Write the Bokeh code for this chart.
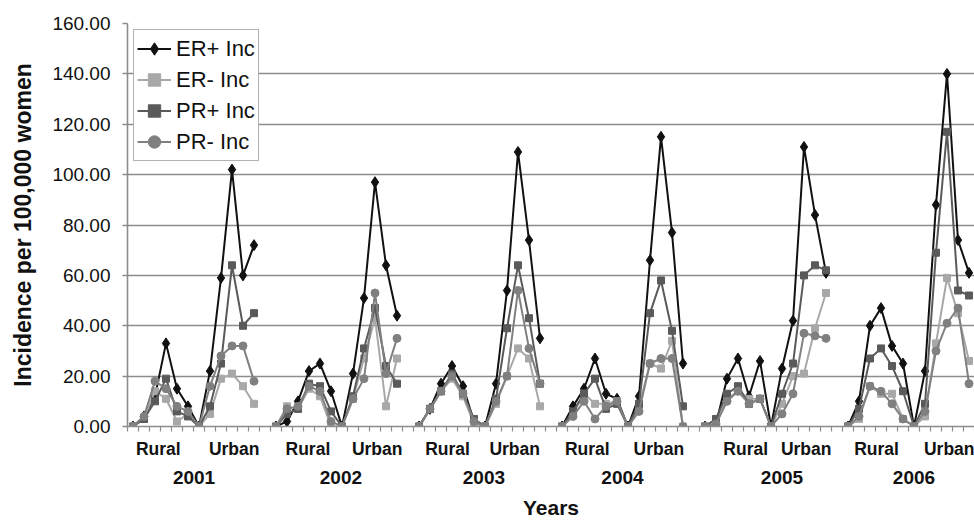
import math
from bokeh.plotting import figure
from bokeh.models import (LinearAxis, FixedTicker, NumeralTickFormatter, Legend,
                          LegendItem, Range1d, CustomJSTickFormatter, ColumnDataSource)
from bokeh.embed import file_html
from bokeh.resources import INLINE

# ---------------- data ----------------
years = ["2001", "2002", "2003", "2004", "2005", "2006"]
groups = ["Rural", "Urban"]
series_names = ["ER+ Inc", "ER- Inc", "PR+ Inc", "PR- Inc"]

# 12 points per year (6 rural-side, 6 urban-side), years in order
er_pos = [0, 4, 12, 33, 15, 8, 0, 22, 59, 102, 60, 72,
          0, 2, 10, 22, 25, 14, 0, 21, 51, 97, 64, 44,
          0, 7, 17, 24, 16, 2, 0, 17, 54, 109, 74, 35,
          0, 8, 15, 27, 13, 11, 0, 12, 66, 115, 77, 25,
          0, 1, 19, 27, 12, 26, 0, 23, 42, 111, 84, 61,
          0, 10, 40, 47, 32, 25, 0, 22, 88, 140, 74, 61]
er_neg = [0, 3, 14, 11, 2, 5, 0, 5, 19, 21, 16, 9,
          0, 8, 7, 15, 12, 0, 0, 11, 27, 43, 8, 27,
          0, 7, 14, 19, 12, 1, 0, 9, 20, 31, 27, 8,
          0, 5, 13, 9, 9, 10, 0, 8, 25, 23, 34, 0,
          0, 1, 11, 14, 11, 11, 0, 9, 20, 21, 39, 53,
          0, 3, 16, 13, 13, 3, 0, 4, 33, 59, 45, 26]
pr_pos = [0, 3, 10, 19, 6, 4, 0, 8, 25, 64, 40, 45,
          0, 5, 7, 17, 16, 6, 0, 12, 31, 47, 24, 17,
          0, 7, 14, 21, 13, 3, 0, 11, 39, 64, 43, 17,
          0, 6, 13, 19, 7, 9, 0, 9, 45, 58, 38, 8,
          0, 3, 13, 16, 9, 11, 0, 13, 25, 60, 64, 62,
          0, 7, 27, 31, 24, 14, 0, 9, 69, 117, 54, 52]
pr_neg = [0, 4, 18, 15, 8, 6, 0, 16, 28, 32, 32, 18,
          0, 7, 8, 16, 14, 2, 0, 11, 19, 53, 21, 35,
          0, 7, 14, 20, 13, 2, 0, 10, 20, 54, 31, 17,
          0, 4, 10, 3, 8, 10, 0, 6, 25, 27, 27, 0,
          0, 1, 10, 14, 9, 11, 0, 5, 13, 37, 36, 35,
          0, 4, 16, 14, 9, 3, 0, 6, 30, 41, 47, 17]
y_ticks = [0, 20, 40, 60, 80, 100, 120, 140, 160]

# ---------------- layout ----------------
PER_YEAR = 12
SLOTS = 13  # 12 points + one empty category between years
rural_pos = [2.3, 15.9, 28.6, 41.3, 55.7, 67.6]
urban_pos = [9.2, 22.2, 34.7, 47.8, 61.2, 74.3]
year_pos = [5.55, 18.9, 31.9, 44.5, 59.0, 71.0]


def expand(vals):
    xs, ys = [], []
    for yi in range(len(years)):
        for j in range(PER_YEAR):
            xs.append(yi * SLOTS + j)
            ys.append(vals[yi * PER_YEAR + j])
        xs.append(yi * SLOTS + PER_YEAR)
        ys.append(float("nan"))
    return xs, ys


FONT = "Liberation Sans"
p = figure(frame_width=847, frame_height=403,
           x_range=Range1d(-0.5, 76.5), y_range=Range1d(0, 160),
           output_backend="svg", toolbar_location=None,
           min_border_left=127, min_border_top=23, min_border_right=0, min_border_bottom=0,
           background_fill_color="white", border_fill_color="white")
p.outline_line_color = None
p.xgrid.visible = False
p.ygrid.grid_line_color = "#8c8c8c"
p.ygrid.grid_line_width = 1.6

# y axis
ya = p.yaxis[0]
ya.ticker = FixedTicker(ticks=y_ticks)
ya.formatter = NumeralTickFormatter(format="0.00")
ya.major_label_text_font = FONT
ya.major_label_text_font_size = "19px"
ya.major_label_text_color = "#111111"
ya.major_label_standoff = 12
ya.major_tick_out = 5
ya.major_tick_in = 0
ya.minor_tick_out = 0
ya.minor_tick_in = 0
ya.axis_line_color = "#8c8c8c"
ya.axis_line_width = 1.6
ya.major_tick_line_color = "#8c8c8c"
ya.major_tick_line_width = 1.6
ya.axis_label = "Incidence per 100,000 women"
ya.axis_label_text_font = FONT
ya.axis_label_text_font_style = "bold"
ya.axis_label_text_font_size = "23px"
ya.axis_label_text_color = "#111111"
ya.axis_label_standoff = 13

# x axis: category boundary ticks + Rural/Urban labels
grp_ticks = []
grp_labels = []
for r, u in zip(rural_pos, urban_pos):
    grp_ticks += [r, u]
    grp_labels += groups
boundaries = [k + 0.5 for k in range(-1, len(years) * SLOTS - 1)]
xa = p.xaxis[0]
xa.ticker = FixedTicker(ticks=grp_ticks, minor_ticks=boundaries)
xa.formatter = CustomJSTickFormatter(args=dict(labels=grp_labels), code="return labels[index]")
xa.major_tick_out = 0
xa.major_tick_in = 0
xa.minor_tick_out = 5
xa.minor_tick_in = 0
xa.minor_tick_line_color = "#8c8c8c"
xa.minor_tick_line_width = 1.2
xa.axis_line_color = "#8c8c8c"
xa.axis_line_width = 1.6
xa.major_label_standoff = 7
xa.major_label_text_font = FONT
xa.major_label_text_font_style = "bold"
xa.major_label_text_font_size = "17.5px"
xa.major_label_text_color = "#111111"

# year axis
ya2 = LinearAxis(ticker=FixedTicker(ticks=year_pos),
                 formatter=CustomJSTickFormatter(args=dict(labels=years), code="return labels[index]"))
ya2.axis_line_color = None
ya2.major_tick_line_color = None
ya2.minor_tick_line_color = None
ya2.major_tick_out = 0
ya2.major_tick_in = 0
ya2.major_label_standoff = 9
ya2.major_label_text_font = FONT
ya2.major_label_text_font_style = "bold"
ya2.major_label_text_font_size = "19px"
ya2.major_label_text_color = "#111111"
ya2.axis_label = "Years"
ya2.axis_label_text_font = FONT
ya2.axis_label_text_font_style = "bold"
ya2.axis_label_text_font_size = "21px"
ya2.axis_label_text_color = "#111111"
ya2.axis_label_standoff = 9
p.add_layout(ya2, "below")

# series
styles = [
    (er_pos, "#111111", "diamond", 11),
    (er_neg, "#a8a8a8", "square", 7),
    (pr_pos, "#5a5a5a", "square", 7),
    (pr_neg, "#808080", "circle", 8),
]
items = []
for name, (vals, color, marker, size) in zip(series_names, styles):
    xs, ys = expand(vals)
    src = ColumnDataSource(dict(x=xs, y=ys))
    ln = p.line("x", "y", source=src, line_color=color, line_width=2)
    sc = p.scatter("x", "y", source=src, marker=marker, size=size,
                   fill_color=color, line_color=color)
    items.append(LegendItem(label=name, renderers=[ln, sc]))

legend = Legend(items=items, location="top_left", margin=6, padding=3, spacing=0,
                label_height=31, glyph_height=31, glyph_width=34, label_standoff=5,
                label_text_font=FONT, label_text_font_size="22px",
                label_text_color="#111111",
                border_line_color="#666666", border_line_width=1.2,
                background_fill_color="white", background_fill_alpha=1)
p.add_layout(legend)

open("out.html", "w").write(file_html(p, INLINE))
